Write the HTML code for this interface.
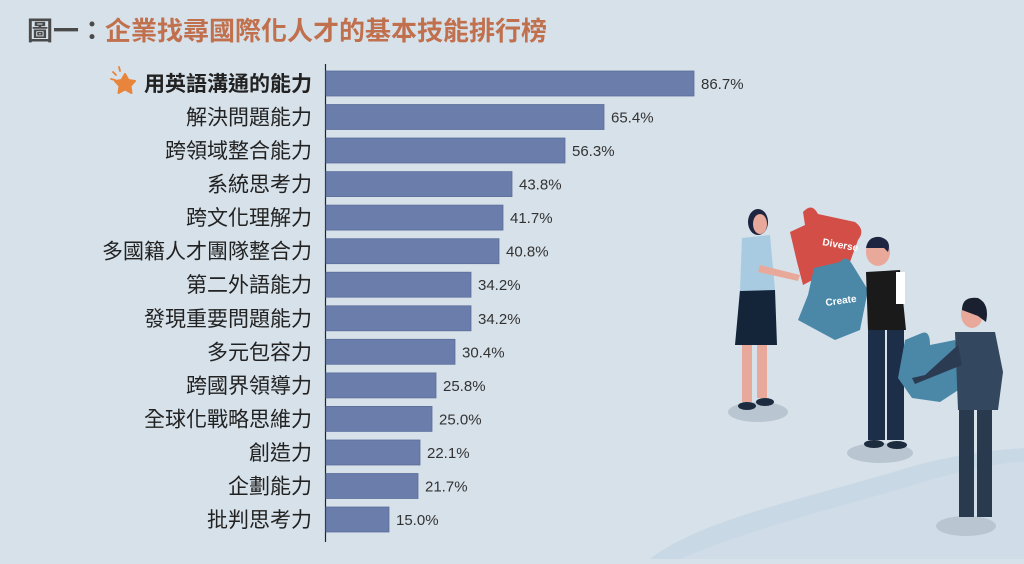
<!DOCTYPE html>
<html><head><meta charset="utf-8"><style>
html,body{margin:0;padding:0;}
body{width:1024px;height:559px;overflow:hidden;background:#d6e1ea;}
svg text{font-family:"Liberation Sans","Noto Sans CJK TC",sans-serif;}
</style></head><body>
<svg width="1024" height="559" viewBox="0 0 1024 559" xmlns="http://www.w3.org/2000/svg">
<rect width="1024" height="559" fill="#d6e1ea"/>
<path d="M650 559 C700 520 800 500 900 470 C960 452 1000 450 1024 448 L1024 559 Z" fill="#c9d8e5"/>
<path d="M680 559 C760 525 850 505 930 480 C980 466 1010 462 1024 462 L1024 559 Z" fill="#d0dde8"/>
<text x="27" y="40" font-size="26" font-weight="bold"><tspan fill="#4a4a4a">圖一：</tspan><tspan fill="#c1704d">企業找尋國際化人才的基本技能排行榜</tspan></text>
<line x1="325.5" y1="64" x2="325.5" y2="542" stroke="#222" stroke-width="1.2"/>
<g fill="#6a7dab" stroke="#5d6f9c" stroke-width="0.8">
<rect x="326" y="71" width="368" height="25"/>
<rect x="326" y="104.5" width="278" height="25"/>
<rect x="326" y="138" width="239" height="25"/>
<rect x="326" y="171.6" width="186" height="25"/>
<rect x="326" y="205.1" width="177" height="25"/>
<rect x="326" y="238.7" width="173" height="25"/>
<rect x="326" y="272.2" width="145" height="25"/>
<rect x="326" y="305.8" width="145" height="25"/>
<rect x="326" y="339.3" width="129" height="25"/>
<rect x="326" y="372.9" width="110" height="25"/>
<rect x="326" y="406.4" width="106" height="25"/>
<rect x="326" y="440" width="94" height="25"/>
<rect x="326" y="473.5" width="92" height="25"/>
<rect x="326" y="507" width="63" height="25"/>
</g>
<g font-size="21" fill="#222" text-anchor="end">
<text x="312" y="91" font-weight="bold">用英語溝通的能力</text>
<text x="312" y="124.5">解決問題能力</text>
<text x="312" y="158">跨領域整合能力</text>
<text x="312" y="191.6">系統思考力</text>
<text x="312" y="225.1">跨文化理解力</text>
<text x="312" y="258.7">多國籍人才團隊整合力</text>
<text x="312" y="292.2">第二外語能力</text>
<text x="312" y="325.8">發現重要問題能力</text>
<text x="312" y="359.3">多元包容力</text>
<text x="312" y="392.9">跨國界領導力</text>
<text x="312" y="426.4">全球化戰略思維力</text>
<text x="312" y="460">創造力</text>
<text x="312" y="493.5">企劃能力</text>
<text x="312" y="527">批判思考力</text>
</g>
<g font-size="15" fill="#333">
<text x="701" y="89">86.7%</text>
<text x="611" y="122.5">65.4%</text>
<text x="572" y="156">56.3%</text>
<text x="519" y="189.6">43.8%</text>
<text x="510" y="223.1">41.7%</text>
<text x="506" y="256.7">40.8%</text>
<text x="478" y="290.2">34.2%</text>
<text x="478" y="323.8">34.2%</text>
<text x="462" y="357.3">30.4%</text>
<text x="443" y="390.9">25.8%</text>
<text x="439" y="424.4">25.0%</text>
<text x="427" y="458">22.1%</text>
<text x="425" y="491.5">21.7%</text>
<text x="396" y="525">15.0%</text>
</g>
<polygon points="125,74 128.5,80 135,81 130.5,86 131.5,93 125,89.5 118.5,93 119.5,86 115,81 121.5,80" fill="#e8843c" stroke="#e8843c" stroke-linejoin="round" stroke-width="2"/>
<g stroke="#e8843c" stroke-width="1.8" stroke-linecap="round">
<line x1="111" y1="79" x2="115" y2="80"/><line x1="113" y1="72" x2="116" y2="75"/><line x1="119" y1="67" x2="120" y2="71"/>
</g>
<g>
<ellipse cx="758" cy="412" rx="30" ry="10" fill="#b9c6d1"/>
<ellipse cx="880" cy="453" rx="33" ry="10" fill="#b9c6d1"/>
<ellipse cx="966" cy="526" rx="30" ry="10" fill="#b9c6d1"/>
<rect x="742" y="340" width="10" height="62" fill="#e8a99a"/>
<rect x="757" y="340" width="10" height="58" fill="#e8a99a"/>
<ellipse cx="747" cy="406" rx="9" ry="4" fill="#1d2b3f"/>
<ellipse cx="765" cy="402" rx="9" ry="4" fill="#1d2b3f"/>
<path d="M740 290 L775 290 L777 345 L735 345 Z" fill="#14253a"/>
<path d="M742 238 L770 235 L775 290 L740 291 Z" fill="#a9cbe2"/>
<path d="M760 265 L800 275 L798 281 L758 272 Z" fill="#e8a99a"/>
<ellipse cx="758" cy="222" rx="10" ry="13" fill="#1d2540"/>
<ellipse cx="760" cy="224" rx="7" ry="10" fill="#e8a99a"/>
<path d="M790 232 L805 225 L803 212 Q812 202 818 214 L855 222 Q866 230 858 240 L850 262 L820 276 L803 285 L797 262 Z" fill="#d24e47"/>
<text x="822" y="245" font-size="10" font-weight="bold" fill="#fff" transform="rotate(10 822 245)">Diverse</text>
<path d="M814 268 L840 262 Q846 254 852 264 L868 290 L860 330 L835 340 L798 320 L808 295 Z" fill="#4b88a8"/>
<text x="826" y="306" font-size="10" font-weight="bold" fill="#fff" transform="rotate(-8 826 306)">Create</text>
<rect x="868" y="328" width="17" height="112" fill="#1c2e48"/>
<rect x="887" y="328" width="17" height="112" fill="#1c2e48"/>
<ellipse cx="874" cy="444" rx="10" ry="4" fill="#1d2b3f"/>
<ellipse cx="897" cy="445" rx="10" ry="4" fill="#1d2b3f"/>
<path d="M866 272 L900 270 L906 330 L868 330 Z" fill="#1a1a1a"/>
<rect x="896" y="272" width="9" height="32" fill="#ffffff"/>
<ellipse cx="878" cy="252" rx="12" ry="14" fill="#e8a99a"/>
<path d="M866 248 Q868 236 880 237 Q892 240 888 252 L884 248 Z" fill="#1d2540"/>
<path d="M905 340 L922 333 Q930 330 930 345 L955 340 L966 385 L940 402 L912 398 L898 378 Z" fill="#4b88a8"/>
<rect x="959" y="405" width="15" height="112" fill="#2a3a4e"/>
<rect x="977" y="405" width="15" height="112" fill="#2a3a4e"/>
<path d="M955 332 L995 332 L1003 372 L998 410 L958 410 Z" fill="#33475e"/>
<path d="M958 345 L925 375 L912 378 L915 384 L962 365 Z" fill="#2b3b52"/>
<ellipse cx="972" cy="314" rx="11" ry="14" fill="#e8a99a"/>
<path d="M962 310 Q962 296 978 298 Q990 304 986 322 L978 316 Z" fill="#1a2030"/>
</g>
</svg>
</body></html>
